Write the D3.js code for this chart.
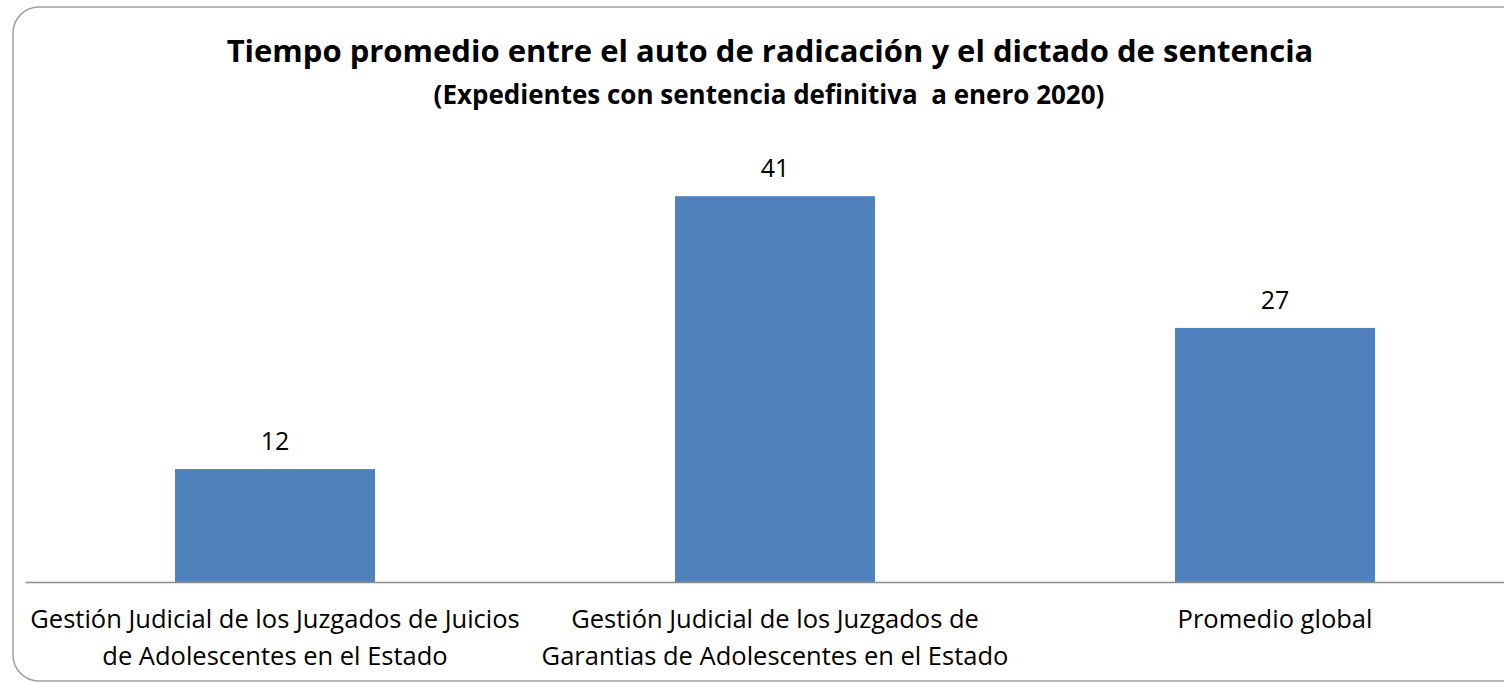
<!DOCTYPE html>
<html>
<head>
<meta charset="utf-8">
<script src="https://cdn.jsdelivr.net/npm/d3@7"></script>
<style>
  body { margin: 0; background: #fff; }
  svg { display: block; font-family: "Open Sans", sans-serif; }
</style>
</head>
<body>
<div id="chart"></div>
<script>
// data
const categories = [
  ["Gestión Judicial de los Juzgados de Juicios", "de Adolescentes en el Estado"],
  ["Gestión Judicial de los Juzgados de", "Garantias de Adolescentes en el Estado"],
  ["Promedio global"]
];
const values = [12, 41, 27];
const title = "Tiempo promedio entre el auto de radicación y el dictado de sentencia";
const subtitle = "(Expedientes con sentencia definitiva  a enero 2020)";

const width = 1504, height = 682;
const barColor = "#4F81BD";

const svg = d3.select("#chart").append("svg")
  .attr("width", width)
  .attr("height", height);

// chart frame
svg.append("rect")
  .attr("x", 13).attr("y", 7)
  .attr("width", 1540).attr("height", 674)
  .attr("rx", 26).attr("ry", 26)
  .attr("fill", "#fff")
  .attr("stroke", "#a0a0a0")
  .attr("stroke-width", 1.5);

svg.append("text")
  .attr("x", 770).attr("y", 62)
  .attr("text-anchor", "middle")
  .style("font-weight", "bold")
  .style("font-size", "31px")
  .text(title);

svg.append("text")
  .attr("x", 769).attr("y", 104)
  .attr("text-anchor", "middle")
  .style("font-weight", "bold")
  .style("font-size", "26px")
  .style("white-space", "pre")
  .text(subtitle);

const idx = d3.range(values.length);

const x = d3.scaleBand()
  .domain(idx)
  .range([25, 1525])
  .paddingInner(0.6)
  .paddingOuter(0.3);

const y = d3.scaleLinear()
  .domain([0, 45])
  .range([582, 582 - 45 * 9.41]);

svg.selectAll("rect.bar")
  .data(idx)
  .enter().append("rect")
  .attr("class", "bar")
  .attr("x", i => x(i))
  .attr("y", i => y(values[i]))
  .attr("width", x.bandwidth())
  .attr("height", i => y(0) - y(values[i]))
  .attr("fill", barColor);

svg.selectAll("text.val")
  .data(idx)
  .enter().append("text")
  .attr("class", "val")
  .attr("x", i => x(i) + x.bandwidth() / 2)
  .attr("y", i => y(values[i]) - 19)
  .attr("text-anchor", "middle")
  .style("font-size", "25px")
  .text(i => values[i]);

// x axis
const axis = svg.append("g")
  .attr("transform", `translate(0,${y(0)})`)
  .call(d3.axisBottom(x).tickSize(0).tickFormat(""));
axis.select(".domain").attr("stroke", "#8c8c8c").attr("stroke-width", 1.5);

const lab = svg.selectAll("text.cat")
  .data(idx)
  .enter().append("text")
  .attr("class", "cat")
  .attr("text-anchor", "middle")
  .style("font-size", "25.5px");

lab.each(function(i) {
  const t = d3.select(this);
  categories[i].forEach((line, k) => {
    t.append("tspan")
      .attr("x", x(i) + x.bandwidth() / 2)
      .attr("y", 628 + k * 37)
      .text(line);
  });
});
</script>
</body>
</html>
